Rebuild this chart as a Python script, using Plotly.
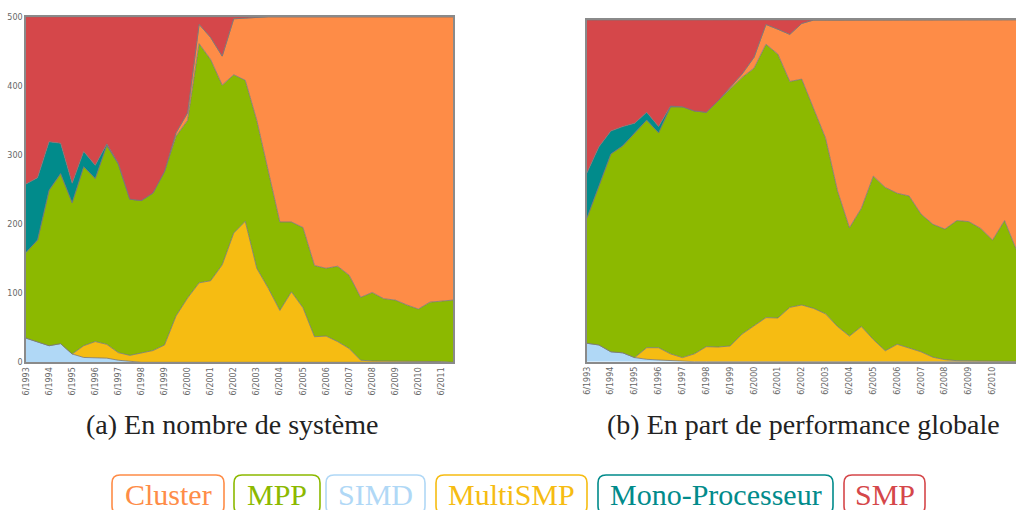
import plotly.graph_objects as go

W, H = 1016, 510

dates = [f"{m}/{y}" for y in range(1993, 2012) for m in (6, 11)]
idx = list(range(len(dates)))
tick_vals = idx[::2]
tick_text = [d for d in dates if d.startswith("6/")]

# (a) number of systems
simd_a = [35, 29, 24, 27, 12, 7, 7, 6, 3, 1] + [0] * 28
multi_a = [0, 0, 0, 0, 0, 17, 23, 20, 11, 9, 14, 17, 25, 67, 93, 115, 118, 141, 187, 204,
           136, 107, 75, 102, 79, 37, 38, 30, 20, 3, 2, 2, 2, 2, 2, 2, 1, 0]
mpp_a = [124, 148, 225, 246, 219, 259, 236, 288, 273, 226, 220, 228, 251, 260, 257, 346, 320, 260, 229, 204,
         214, 168, 128, 101, 116, 103, 98, 109, 106, 91, 99, 90, 88, 81, 75, 85, 88, 90]
cluster_a = [0] * 13 + [5, 11, 28, 32, 42, 81, 90, 150, 225, 297, 297, 305, 360, 364, 361, 374, 406,
                        399, 408, 410, 417, 423, 413, 411, 410]
mono_a = [99, 90, 70, 44, 28, 22, 19, 2, 1] + [0] * 29
smp_a = [242, 233, 181, 183, 241, 195, 215, 184, 212, 264, 266, 255, 224, 168, 139, 11, 30, 57, 3, 2] + [0] * 18

# (b) share of global performance (%)
simd_b = [5.4, 4.9, 2.9, 2.6, 1.2, 0.7, 0.5, 0.3] + [0] * 30
multi_b = [0, 0, 0, 0, 0, 3.4, 3.6, 2.0, 1.2, 2.3, 4.4, 4.3, 4.6, 8.1, 10.5, 12.9, 12.8, 15.9, 16.6, 15.6,
           14.0, 10.3, 7.5, 10.3, 6.5, 3.2, 5.1, 4.1, 2.9, 1.3, 0.6, 0.3, 0.2, 0.2, 0.1, 0.1, 0.1, 0.1]
mpp_b = [36.7, 46.6, 57.9, 60.6, 65.6, 66.6, 62.9, 72.3, 73.4, 71.1, 68.6, 72.1, 75.4, 75.1, 75.4, 80.0, 77.2,
         66.1, 66.1, 58.6, 51.4, 39.7, 31.7, 34.6, 47.8, 47.8, 44.2, 44.4, 40.3, 38.9, 38.2, 41.0, 40.8, 38.8,
         35.5, 41.2, 32.6, 30.0]
cluster_b = [0] * 12 + [0.3, 1.0, 3.2, 5.8, 7.3, 13.8, 16.3, 25.8, 34.6, 50.0, 60.8, 55.1, 45.7, 49.0, 50.7,
                        51.5, 56.8, 59.8, 61.2, 58.7, 59.0, 61.0, 64.4, 58.7, 67.3, 70.0]
mono_b = [13.2, 11.4, 6.7, 5.6, 3.0, 2.3, 1.8, 0.2] + [0] * 30
smp_b = [44.7, 37.1, 32.5, 31.2, 30.2, 27.0, 31.2, 25.4, 25.4, 26.6, 27.0, 23.6, 19.7, 15.8, 10.9, 1.3, 2.7,
         4.2, 1.0] + [0] * 19

names = ["SIMD", "MultiSMP", "MPP", "Cluster", "Mono-Processeur", "SMP"]
colors = {"Cluster": "#fe8c47", "MPP": "#8cb900", "SIMD": "#b0d8f6",
          "MultiSMP": "#f6bc12", "Mono-Processeur": "#018b8b", "SMP": "#d5474a"}
series_a = [simd_a, multi_a, mpp_a, cluster_a, mono_a, smp_a]
series_b = [simd_b, multi_b, mpp_b, cluster_b, mono_b, smp_b]

fig = go.Figure()
for nm, ya in zip(names, series_a):
    fig.add_trace(go.Scatter(x=idx, y=ya, name=nm, stackgroup="a", mode="lines",
                             line=dict(color="rgba(120,120,120,0.8)", width=1),
                             fillcolor=colors[nm], xaxis="x", yaxis="y", showlegend=False))
for nm, yb in zip(names, series_b):
    fig.add_trace(go.Scatter(x=idx, y=yb, name=nm, stackgroup="b", mode="lines",
                             line=dict(color="rgba(120,120,120,0.8)", width=1),
                             fillcolor=colors[nm], xaxis="x2", yaxis="y2", showlegend=False))

def px(x):
    return x / W

def py(y):
    return 1 - y / H

tickfont = dict(family="DejaVu Sans", size=8, color="#666")
axcol = "#8a8a8a"

fig.update_layout(
    width=W, height=H, margin=dict(l=0, r=0, t=0, b=0, autoexpand=False),
    paper_bgcolor="white", plot_bgcolor="white",
    xaxis=dict(domain=[px(26), px(453)], range=[0, 37], tickvals=tick_vals, ticktext=tick_text,
               tickangle=-90, tickfont=tickfont, showgrid=False, zeroline=False, automargin=False,
               showline=True, mirror=True, linecolor=axcol, linewidth=1.5, ticks=""),
    yaxis=dict(domain=[py(362.3), py(16.7)], range=[0, 500], tickvals=[0, 100, 200, 300, 400, 500],
               tickfont=tickfont, showgrid=False, zeroline=False, automargin=False,
               showline=True, mirror=True, linecolor=axcol, linewidth=1.5, ticks=""),
    xaxis2=dict(domain=[px(587), 1.0], range=[0, (1016 - 587) / 11.93], tickvals=tick_vals,
                ticktext=tick_text, tickangle=-90, tickfont=tickfont, showgrid=False, zeroline=False,
                automargin=False,
                showline=True, mirror=True, linecolor=axcol, linewidth=1.5, ticks="", anchor="y2"),
    yaxis2=dict(domain=[py(361.7), py(20)], range=[0, 100], showticklabels=False, showgrid=False,
                zeroline=False, showline=True, mirror=False, linecolor=axcol, linewidth=1.5,
                automargin=False, ticks="", anchor="x2"),
)

serif = "Liberation Serif"
fig.add_annotation(x=px(232), y=py(424), xref="paper", yref="paper", showarrow=False,
                   xanchor="center", yanchor="middle",
                   text="(a) En nombre de système", font=dict(family=serif, size=28, color="#222"))
fig.add_annotation(x=px(803), y=py(424), xref="paper", yref="paper", showarrow=False,
                   xanchor="center", yanchor="middle",
                   text="(b) En part de performance globale", font=dict(family=serif, size=28, color="#222"))

legend_items = [("Cluster", 112, 224), ("MPP", 234, 320), ("SIMD", 326, 425),
                ("MultiSMP", 436, 587), ("Mono-Processeur", 598, 833), ("SMP", 844, 925)]
top, bot, r = 475, 514, 8
for nm, x0, x1 in legend_items:
    c = colors[nm]
    path = (f"M {px(x0 + r)},{py(top)} L {px(x1 - r)},{py(top)} Q {px(x1)},{py(top)} {px(x1)},{py(top + r)} "
            f"L {px(x1)},{py(bot - r)} Q {px(x1)},{py(bot)} {px(x1 - r)},{py(bot)} "
            f"L {px(x0 + r)},{py(bot)} Q {px(x0)},{py(bot)} {px(x0)},{py(bot - r)} "
            f"L {px(x0)},{py(top + r)} Q {px(x0)},{py(top)} {px(x0 + r)},{py(top)} Z")
    fig.add_shape(type="path", path=path, xref="paper", yref="paper",
                  line=dict(color=c, width=1.6), fillcolor="rgba(0,0,0,0)")
    fig.add_annotation(x=px((x0 + x1) / 2), y=py(494), xref="paper", yref="paper", showarrow=False,
                       xanchor="center", yanchor="middle",
                       text=nm, font=dict(family=serif, size=30, color=c))

fig.write_html("out.html", config={"displayModeBar": False},
               post_script="document.body.style.margin='0px';document.body.style.overflow='hidden';")
